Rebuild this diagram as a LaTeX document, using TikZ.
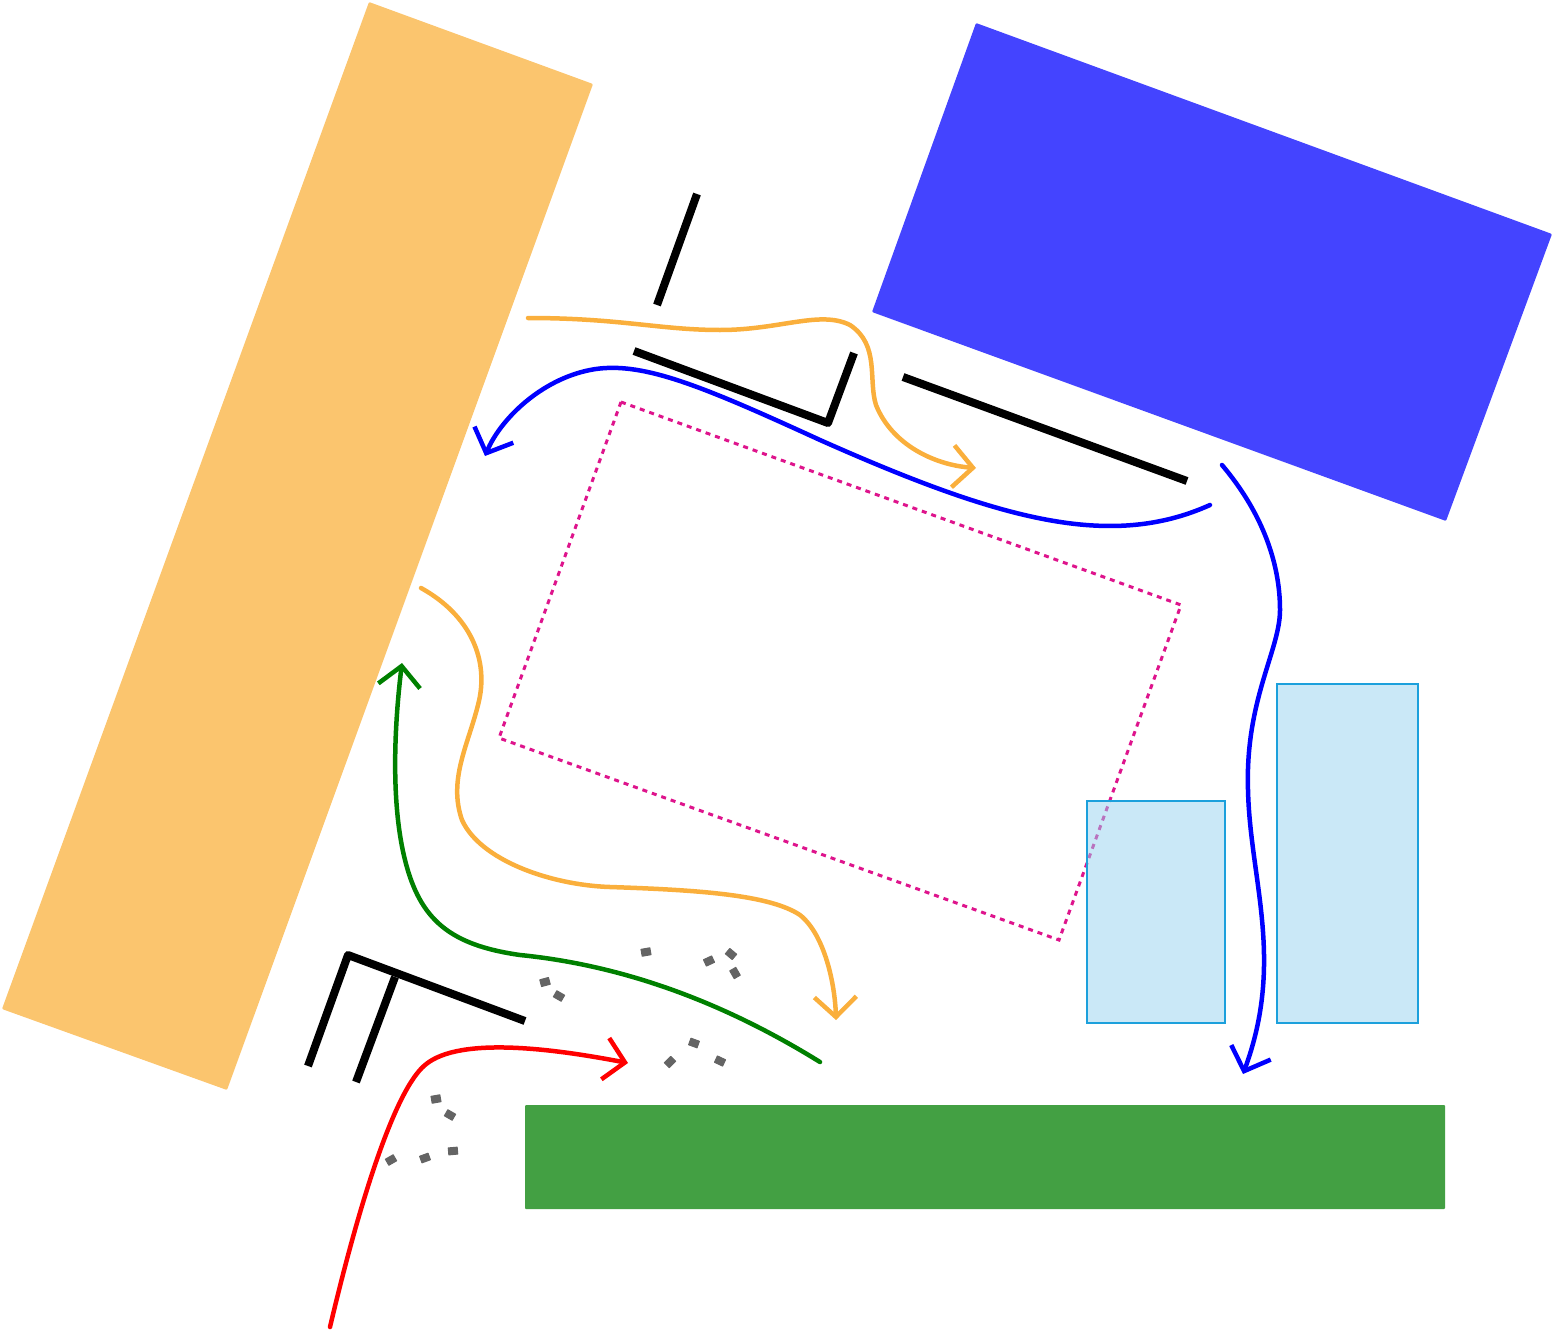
\documentclass[tikz,border=0pt]{standalone}
\usetikzlibrary{arrows.meta}

\definecolor{sand}{RGB}{251,197,110}
\definecolor{roof}{RGB}{68,68,255}
\definecolor{lawn}{RGB}{67,160,67}
\definecolor{pool}{RGB}{150,210,240}
\definecolor{poolline}{RGB}{28,160,220}
\definecolor{zone}{RGB}{222,20,140}
\definecolor{route}{RGB}{250,175,60}
\definecolor{mark}{RGB}{100,100,100}

\begin{document}
\begin{tikzpicture}[x=1pt,y=-1pt,
  wall/.style={line width=8pt, line join=round},
  path arrow/.style={line width=4.5pt, line cap=round, -{Straight Barb[length=20pt,width=42pt,line width=4.5pt]}},
  track/.style={fill=mark, draw=mark, line width=1pt, line join=round}]
  \useasboundingbox (0,0) rectangle (1554,1330);

  % Blocks
  \fill[sand, rounded corners=1pt] (369,2) -- (593,84) -- (227,1090) -- (2,1009) -- cycle;
  \fill[roof, rounded corners=1pt] (976,23) -- (1552,234) -- (1446,521) -- (872,312) -- cycle;
  \fill[lawn, rounded corners=1pt] (525,1105) rectangle (1445,1209);

  % Dotted zone
  \draw[zone, line width=3pt, dash pattern=on 5pt off 5pt]
    (621,402) -- (1181,605) -- (1059,940) -- (499,738) -- cycle;

  % Light blue boxes
  \draw[poolline, line width=1.8pt, fill=pool, fill opacity=0.5] (1087,801) rectangle (1225,1023);
  \draw[poolline, line width=1.8pt, fill=pool, fill opacity=0.5] (1277,684) rectangle (1418,1023);

  % Walls
  \draw[wall] (697,194) -- (657,305);
  \draw[wall] (634,351) -- (828,423) -- (854,353);
  \draw[wall] (903,377) -- (1187,481);
  \draw[wall] (525,1021) -- (348,955) -- (308,1066);
  \draw[wall] (395,977) -- (356,1082);

  % Routes
  \draw[path arrow, route] (528,318) .. controls (620,318) and (660,330) .. (720,330)
    .. controls (780,330) and (820,310) .. (850,325)
    .. controls (880,345) and (868,380) .. (876,405)
    .. controls (892,445) and (935,465) .. (976,468);
  \draw[path arrow, blue] (1210,505) .. controls (1110,550) and (1000,520) .. (820,440)
    .. controls (700,385) and (640,360) .. (590,370)
    .. controls (540,380) and (500,420) .. (485,456);
  \draw[path arrow, blue] (1222,465) .. controls (1260,510) and (1280,560) .. (1280,610)
    .. controls (1280,650) and (1245,700) .. (1248,790)
    .. controls (1250,880) and (1285,960) .. (1243,1074);
  \draw[path arrow, route] (421,588) .. controls (470,615) and (490,660) .. (478,705)
    .. controls (468,745) and (448,780) .. (462,820)
    .. controls (480,860) and (550,885) .. (610,887)
    .. controls (700,890) and (770,895) .. (800,915)
    .. controls (825,935) and (835,985) .. (836,1020);
  \draw[path arrow, green!50!black] (820,1062) .. controls (720,1000) and (620,965) .. (520,955)
    .. controls (450,945) and (420,920) .. (405,860)
    .. controls (390,800) and (395,720) .. (402,663);
  \draw[path arrow, red] (330,1327) .. controls (360,1200) and (395,1090) .. (425,1065)
    .. controls (460,1035) and (560,1050) .. (628,1063);

  % Footprints
  \foreach \x/\y/\a in {436/1099/10, 450/1115/-30, 453/1151/5, 425/1158/20, 391/1160/30,
                        646/952/10, 709/961/25, 731/954/-40, 735/973/-60, 694/1043/-20,
                        670/1062/45, 720/1061/-25, 545/982/15, 559/996/-30}
    \filldraw[track, rotate around={\a:(\x,\y)}] (\x-4.5,\y-3.5) rectangle (\x+4.5,\y+3.5);
\end{tikzpicture}
\end{document}
